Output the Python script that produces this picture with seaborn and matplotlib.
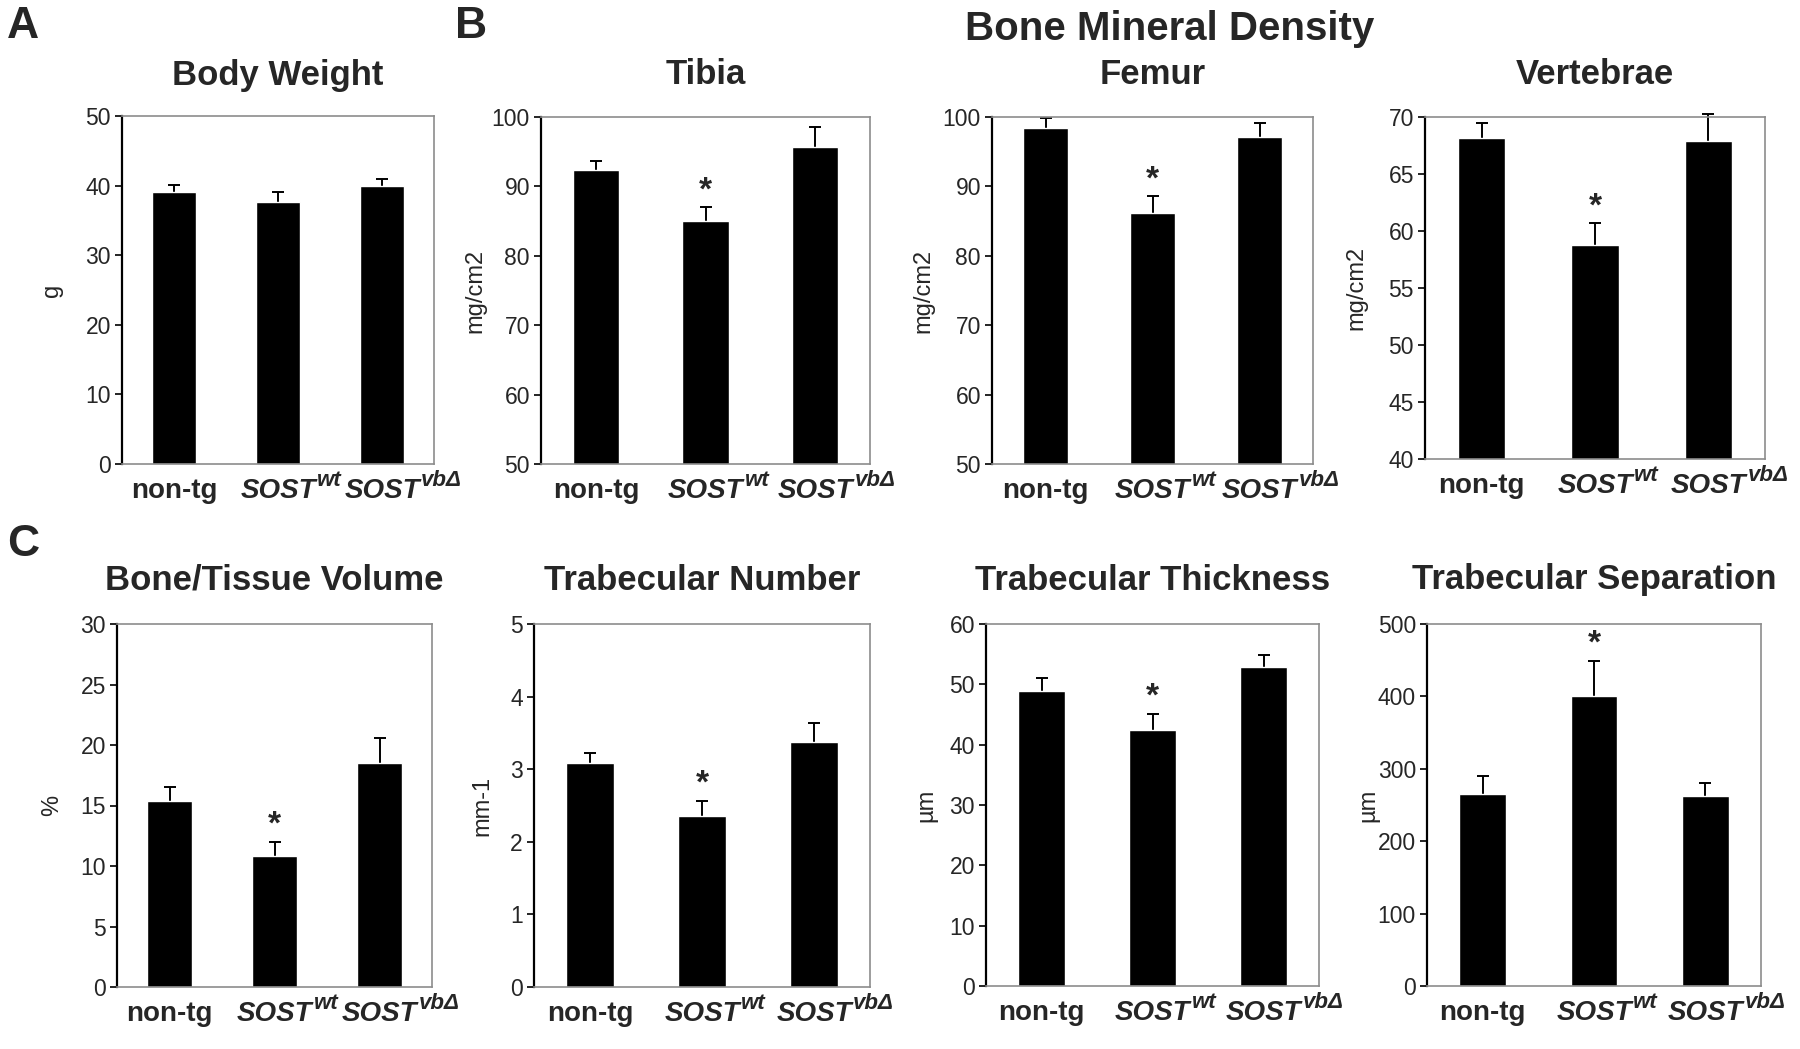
import numpy as np
import pandas as pd
import matplotlib
matplotlib.use("Agg")
import matplotlib.pyplot as plt
import seaborn as sns

# ---------------- data ----------------
groups = ["non-tg", "SOST-wt", "SOST-vbD"]
label_base = ["non-tg", "SOST", "SOST"]
label_sup = ["", "wt", "vbΔ"]

bw_mean = [39.1, 37.6, 40.0]
bw_sem = [1.0, 1.5, 1.0]

tibia_mean = [92.4, 85.0, 95.7]
tibia_sem = [1.3, 2.0, 2.8]

femur_mean = [98.4, 86.2, 97.1]
femur_sem = [1.4, 2.4, 2.1]

vert_mean = [68.2, 58.8, 67.9]
vert_sem = [1.3, 1.9, 2.4]

btv_mean = [15.4, 10.8, 18.5]
btv_sem = [1.1, 1.2, 2.1]

tn_mean = [3.08, 2.35, 3.38]
tn_sem = [0.15, 0.21, 0.26]

tt_mean = [48.9, 42.4, 52.9]
tt_sem = [2.1, 2.7, 1.9]

ts_mean = [265, 400, 263]
ts_sem = [25, 49, 17]

no_sig = [False, False, False]
wt_sig = [False, True, False]

titles = ["Body Weight", "Tibia", "Femur", "Vertebrae",
          "Bone/Tissue Volume", "Trabecular Number",
          "Trabecular Thickness", "Trabecular Separation"]
ylabels = ["g", "mg/cm2", "mg/cm2", "mg/cm2", "%", "mm-1", "µm", "µm"]
ylims = [(0, 50, 10), (50, 100, 10), (50, 100, 10), (40, 70, 5),
         (0, 30, 5), (0, 5, 1), (0, 60, 10), (0, 500, 100)]

means = [bw_mean, tibia_mean, femur_mean, vert_mean, btv_mean, tn_mean, tt_mean, ts_mean]
sems = [bw_sem, tibia_sem, femur_sem, vert_sem, btv_sem, tn_sem, tt_sem, ts_sem]
sigs = [no_sig, wt_sig, wt_sig, wt_sig, wt_sig, wt_sig, wt_sig, wt_sig]

# ---------------- layout (pixels) ----------------
W, H = 1800, 1049
boxes = [(122, 116, 434, 464), (541, 117, 870, 464), (992, 117, 1313, 464), (1425, 117, 1765, 459),
         (117, 624, 432, 987), (534, 624, 870, 987), (986, 624, 1319, 986), (1427, 624, 1761, 986)]
ylab_off = [70, 66, 69, 69, 65, 52, 60, 59]
title_y = [75, 75, 75, 75, 580, 580, 580, 580]

sns.set_theme(style="white")
plt.rcParams["font.family"] = ["Liberation Sans", "DejaVu Sans"]

fig = plt.figure(figsize=(18, 10.49), dpi=100)

for k in range(8):
    l, t, r, b = boxes[k]
    ax = fig.add_axes([l / W, 1 - b / H, (r - l) / W, (b - t) / H])
    df = pd.DataFrame({"group": groups, "value": means[k]})
    sns.barplot(data=df, x="group", y="value", color="black", saturation=1,
                width=0.42, errorbar=None, ax=ax, zorder=2)
    x = np.arange(len(groups))
    eb = ax.errorbar(x, means[k], yerr=[np.zeros(len(groups)), sems[k]], fmt="none",
                     ecolor="black", elinewidth=1.4, capsize=4.5, capthick=1.4,
                     clip_on=False, zorder=1)
    caps = eb[1]
    if len(caps) == 2:
        caps[0].set_visible(False)  # hide the cap sitting on the bar top
    lo, hi, step = ylims[k]
    ax.set_xlim(-0.5, 2.5)
    ax.set_ylim(lo, hi)
    ax.set_yticks(np.arange(lo, hi + step / 2, step))
    ax.set_xticks(x)
    ax.set_xticklabels([""] * len(groups))
    ax.tick_params(axis="x", length=0)
    ax.tick_params(axis="y", left=True, length=5, width=1.2, color="black",
                   labelsize=16.5, pad=3, direction="out")
    for s in ["top", "right", "bottom"]:
        ax.spines[s].set_color("#8c8c8c")
        ax.spines[s].set_linewidth(1.2)
    ax.spines["left"].set_color("black")
    ax.spines["left"].set_linewidth(1.6)
    ax.set_xlabel("")
    ax.set_ylabel(ylabels[k], fontsize=17)
    ax.yaxis.set_label_coords(-ylab_off[k] / (r - l), 0.5)
    ax.yaxis.label.set_va("center")

    # category labels: base centred on bar, superscript appended
    for i in range(len(groups)):
        style = "normal" if label_sup[i] == "" else "italic"
        base = ax.annotate(label_base[i], xy=(i, 0), xycoords=ax.get_xaxis_transform(),
                           xytext=(0, -10), textcoords="offset points",
                           ha="center", va="top", fontsize=20, fontweight="bold",
                           fontstyle=style, annotation_clip=False)
        if label_sup[i]:
            ax.annotate(label_sup[i], xy=(1, 1), xycoords=base,
                        xytext=(1, -6), textcoords="offset points",
                        ha="left", va="baseline", fontsize=16, fontweight="bold",
                        fontstyle="italic", annotation_clip=False)

    for i in range(len(groups)):
        if sigs[k][i]:
            ax.annotate("*", xy=(i, means[k][i] + sems[k][i] + 0.07 * (hi - lo)),
                        xytext=(0, -6), textcoords="offset points",
                        ha="center", va="center", fontsize=24, fontweight="bold")
    fig.text((l + r) / 2 / W, 1 - title_y[k] / H, titles[k], ha="center", va="center",
             fontsize=25, fontweight="bold")

fig.text(1170 / W, 1 - 29 / H, "Bone Mineral Density", ha="center", va="center",
         fontsize=29, fontweight="bold")
fig.text(23 / W, 1 - 26 / H, "A", ha="center", va="center", fontsize=32, fontweight="bold")
fig.text(471 / W, 1 - 26 / H, "B", ha="center", va="center", fontsize=32, fontweight="bold")
fig.text(23 / W, 1 - 545 / H, "C", ha="center", va="center", fontsize=32, fontweight="bold")

fig.savefig("out.png", dpi=100, facecolor="white")
